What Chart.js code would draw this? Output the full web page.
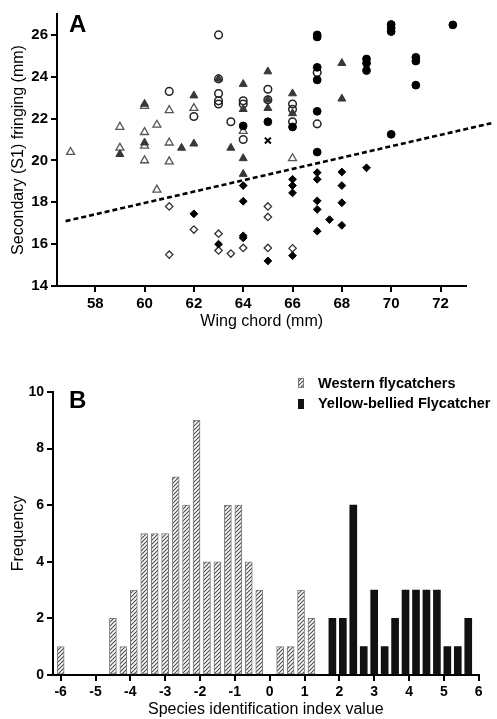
<!DOCTYPE html>
<html><head><meta charset="utf-8">
<script src="https://cdn.jsdelivr.net/npm/chart.js@4/dist/chart.umd.min.js"></script>
<style>
html,body{margin:0;padding:0;background:#fff;width:497px;height:719px;overflow:hidden;}
#wa{position:absolute;left:0;top:0;width:497px;height:340px;}
#wb{position:absolute;left:0;top:340px;width:497px;height:379px;}
.lbl{position:absolute;font:bold 24px "Liberation Sans",Arial,sans-serif;line-height:24px;color:#000;}
</style></head>
<body>
<div id="wa"><canvas id="ca" width="497" height="340"></canvas></div>
<div id="wb"><canvas id="cb" width="497" height="379"></canvas></div>
<div class="lbl" style="left:69px;top:12px">A</div>
<div class="lbl" style="left:69px;top:388px">B</div>
<script>
// ---------- Panel A data: [wing chord (mm), S1 fringing (mm)] ----------
const openTriangles = [[57,20.4],[59,21.6],[59,20.6],[60,22.6],[60,21.35],[60,20.7],[60,20.0],[60.5,21.7],[60.5,18.6],[61,22.4],[61,20.85],[61,19.95],[62,22.5],[64,21.4],[66,20.1]];
const filledTriangles = [[59,20.3],[60,22.7],[60,20.85],[61.5,20.6],[62,23.1],[62,20.8],[63,23.9],[63.5,20.6],[64,23.65],[64,22.45],[64,20.1],[64,19.35],[65,24.25],[65,22.9],[65,22.5],[66,23.2],[66,22.25],[68,24.65],[68,22.95]];
const openCircles = [[61,23.3],[62,22.1],[63,26.0],[63,23.9],[63,23.2],[63,22.85],[63,22.7],[63.5,21.85],[64,22.85],[64,22.7],[64,21.0],[65,23.4],[65,22.9],[66,22.7],[66,22.45],[66,21.85],[67,24.2],[67,21.75]];
const filledCircles = [[64,21.65],[65,21.85],[66,21.6],[67,26.0],[67,25.9],[67,24.45],[67,23.85],[67,22.35],[67,20.4],[69,24.85],[69,24.65],[69,24.3],[70,26.5],[70,26.33],[70,26.16],[70,21.25],[71,24.93],[71,24.75],[71,23.6],[72.5,26.48]];
const crosses = [[65,20.95]];
const openDiamonds = [[61,17.8],[61,15.5],[62,16.7],[63,16.5],[63,15.7],[63.5,15.55],[64,15.82],[65,17.8],[65,17.3],[65,15.82],[66,15.8]];
const filledDiamonds = [[62,17.45],[63,16.0],[64,18.8],[64,18.05],[64,16.4],[64,16.3],[65,15.2],[66,19.1],[66,18.8],[66,18.45],[66,15.45],[67,19.42],[67,19.1],[67,18.07],[67,17.66],[67,16.62],[67.5,17.17],[68,19.45],[68,18.8],[68,17.98],[68,16.9],[69,19.65]];
const discriminantLine = [[56.8,17.1],[74.06,21.78]];
const xTicksA = [58,60,62,64,66,68,70,72];
const yTicksA = [14,16,18,20,22,24,26];

// ---------- Panel B data ----------
const binCenters = [-6.0,-5.7,-5.4,-5.1,-4.8,-4.5,-4.2,-3.9,-3.6,-3.3,-3.0,-2.7,-2.4,-2.1,-1.8,-1.5,-1.2,-0.9,-0.6,-0.3,0.0,0.3,0.6,0.9,1.2,1.5,1.8,2.1,2.4,2.7,3.0,3.3,3.6,3.9,4.2,4.5,4.8,5.1,5.4,5.7];
const westernCounts = [1,0,0,0,0,2,1,3,5,5,5,7,6,9,4,4,6,6,4,3,0,1,1,3,2,0,0,0,0,0,0,0,0,0,0,0,0,0,0,0];
const yellowCounts  = [0,0,0,0,0,0,0,0,0,0,0,0,0,0,0,0,0,0,0,0,0,0,0,0,0,0,2,2,6,1,3,1,2,3,3,3,3,1,1,2];
const xTicksB = [-6,-5,-4,-3,-2,-1,0,1,2,3,4,5,6];
const yTicksB = [0,2,4,6,8,10];

const FONT = '"Liberation Sans", Arial, Helvetica, sans-serif';
const toXY = arr => arr.map(p => ({x: p[0], y: p[1]}));

function axisStyle(extra) {
  return Object.assign({
    border: {display: true, color: '#000', width: 2},
    grid: {display: true, drawOnChartArea: false, drawTicks: true, tickLength: 6, color: '#000', lineWidth: 2, offset: false},
    ticks: {color: '#000', font: {family: FONT, size: 15, weight: 'bold'}, padding: 3, maxRotation: 0, autoSkip: false}
  }, extra);
}

function pts(label, data, style, bg, border, radius, bw) {
  return {label, data: toXY(data), pointStyle: style, pointRadius: radius, pointHoverRadius: radius,
    pointBackgroundColor: bg, pointBorderColor: border, pointBorderWidth: bw,
    backgroundColor: bg, borderColor: border, showLine: false};
}

new Chart(document.getElementById('ca'), {
  type: 'scatter',
  data: {datasets: [
    {label: 'discriminant', data: toXY(discriminantLine), showLine: true, borderColor: '#000', borderWidth: 2.6,
      borderDash: [5, 3], pointRadius: 0, fill: false, clip: false},
    pts('cross', crosses, 'crossRot', '#000', '#000', 4.2, 2),
    pts('filled circles', filledCircles, 'circle', '#000', '#000', 3.9, 1),
    pts('filled diamonds', filledDiamonds, 'rectRot', '#000', '#000', 3.9, 1),
    pts('open diamonds', openDiamonds, 'rectRot', 'rgba(255,255,255,0)', '#333', 3.7, 1.3),
    pts('filled triangles', filledTriangles, 'triangle', '#383838', '#383838', 4.6, 1),
    pts('open circles', openCircles, 'circle', 'rgba(255,255,255,0)', '#222', 3.8, 1.5),
    pts('open triangles', openTriangles, 'triangle', 'rgba(255,255,255,0)', '#555', 4.6, 1.3)
  ]},
  options: {
    animation: false, responsive: false, devicePixelRatio: 1,
    layout: {padding: {top: 14, right: 30.6, left: 0, bottom: 0}},
    plugins: {legend: {display: false}, tooltip: {enabled: false}},
    scales: {
      x: axisStyle({type: 'linear', min: 56.45, max: 73.05,
        afterBuildTicks: s => { s.ticks = xTicksA.map(v => ({value: v})); },
        afterFit: s => { s.height = 54; },
        title: {display: true, text: 'Wing chord (mm)', color: '#000', font: {family: FONT, size: 16}, padding: {top: 0, bottom: 9}}
      }),
      y: axisStyle({type: 'linear', min: 14, max: 27,
        afterBuildTicks: s => { s.ticks = yTicksA.map(v => ({value: v})); },
        afterFit: s => { s.width = 57; },
        title: {display: true, text: 'Secondary (S1) fringing (mm)', color: '#000', font: {family: FONT, size: 16}, padding: {top: 9, bottom: 0}}
      })
    }
  }
});

// hatch pattern for western bars
function makeHatch() {
  const c = document.createElement('canvas');
  c.width = 4; c.height = 4;
  const g = c.getContext('2d');
  g.fillStyle = '#fff'; g.fillRect(0, 0, 4, 4);
  g.strokeStyle = '#4a4a4a'; g.lineWidth = 1.1;
  g.beginPath();
  g.moveTo(-1, 5); g.lineTo(5, -1);
  g.moveTo(-1, 1); g.lineTo(1, -1);
  g.moveTo(3, 5); g.lineTo(5, 3);
  g.stroke();
  return g.createPattern(c, 'repeat');
}
const hatch = makeHatch();

const boxLegend = {
  id: 'boxLegend',
  afterDraw(chart) {
    const ctx = chart.ctx;
    const rows = [{box: 38, base: 48}, {box: 59, base: 68}];
    ctx.save();
    chart.data.datasets.forEach((ds, i) => {
      const r = rows[i];
      ctx.fillStyle = ds.backgroundColor;
      ctx.fillRect(298, r.box, 6, 10);
      if (ds.borderWidth) {
        ctx.strokeStyle = ds.borderColor; ctx.lineWidth = 1;
        ctx.strokeRect(298.5, r.box + 0.5, 5, 9);
      }
      ctx.fillStyle = '#000';
      ctx.font = 'bold 14.5px ' + FONT;
      ctx.textBaseline = 'alphabetic';
      ctx.textAlign = 'left';
      ctx.fillText(ds.label, 318, r.base);
    });
    ctx.restore();
  }
};

new Chart(document.getElementById('cb'), {
  type: 'bar',
  data: {datasets: [
    {label: 'Western flycatchers',
      data: binCenters.map((x, i) => ({x, y: westernCounts[i]})).filter(d => d.y > 0),
      backgroundColor: hatch, borderColor: '#7a7a7a', borderWidth: 1, borderSkipped: false,
      barThickness: 7, grouped: false},
    {label: 'Yellow-bellied Flycatcher',
      data: binCenters.map((x, i) => ({x, y: yellowCounts[i]})).filter(d => d.y > 0),
      backgroundColor: '#111', borderColor: '#111', borderWidth: 0,
      barThickness: 7, grouped: false}
  ]},
  plugins: [boxLegend],
  options: {
    animation: false, responsive: false, devicePixelRatio: 1,
    layout: {padding: {top: 52, right: 18.3, left: 0, bottom: 0}},
    plugins: {legend: {display: false}, tooltip: {enabled: false}},
    scales: {
      x: axisStyle({type: 'linear', min: -6.22, max: 6, offset: false,
        afterBuildTicks: s => { s.ticks = xTicksB.map(v => ({value: v})); },
        afterFit: s => { s.height = 44; },
        ticks: {color: '#000', font: {family: FONT, size: 14, weight: 'bold'}, padding: 3, maxRotation: 0, autoSkip: false},
        title: {display: true, text: 'Species identification index value', color: '#000', font: {family: FONT, size: 16}, padding: {top: 0, bottom: 0}}
      }),
      y: axisStyle({type: 'linear', min: 0, max: 10,
        afterBuildTicks: s => { s.ticks = yTicksB.map(v => ({value: v})); },
        afterFit: s => { s.width = 53; },
        ticks: {color: '#000', font: {family: FONT, size: 14, weight: 'bold'}, padding: 3, maxRotation: 0, autoSkip: false},
        title: {display: true, text: 'Frequency', color: '#000', font: {family: FONT, size: 16}, padding: {top: 9, bottom: 0}}
      })
    }
  }
});
</script>
</body></html>
